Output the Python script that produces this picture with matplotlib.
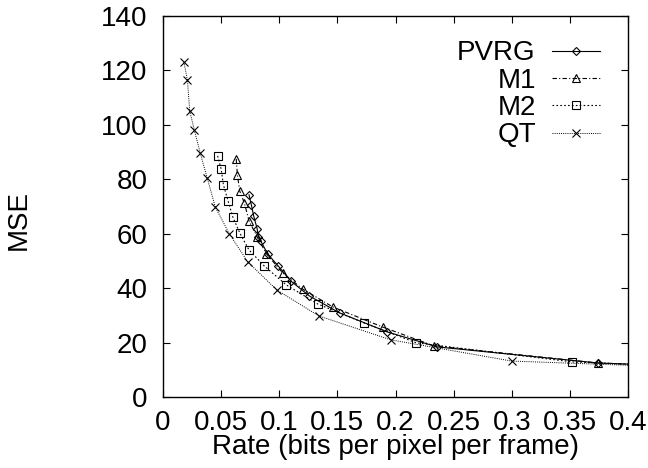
import matplotlib
matplotlib.use("Agg")
import matplotlib.pyplot as plt

plt.rcParams["font.family"] = ["Liberation Sans", "DejaVu Sans"]

# values
pvrg_x = [0.074, 0.076, 0.078, 0.081, 0.082, 0.084, 0.090, 0.099, 0.110, 0.126, 0.152, 0.193, 0.236, 0.374, 0.45]
pvrg_y = [74.3, 70.6, 66.5, 61.8, 58.8, 57.4, 52.6, 48.2, 42.6, 37.1, 30.9, 23.9, 18.4, 12.5, 11.3]

m1_x = [0.063, 0.064, 0.066, 0.070, 0.074, 0.081, 0.089, 0.103, 0.120, 0.146, 0.189, 0.233, 0.374, 0.45]
m1_y = [87.5, 81.6, 75.7, 71.3, 64.7, 58.8, 52.6, 45.6, 39.7, 33.1, 25.7, 18.8, 12.5, 11.3]

m2_x = [0.047, 0.050, 0.052, 0.056, 0.060, 0.066, 0.074, 0.087, 0.106, 0.133, 0.173, 0.218, 0.352, 0.45]
m2_y = [88.6, 83.8, 77.9, 72.0, 66.2, 60.3, 54.0, 48.2, 41.2, 34.2, 27.2, 19.9, 12.9, 11.2]

qt_x = [0.018, 0.021, 0.023, 0.027, 0.032, 0.038, 0.045, 0.057, 0.073, 0.098, 0.134, 0.196, 0.300, 0.45]
qt_y = [123.0, 116.5, 105.0, 98.0, 89.7, 80.5, 69.8, 60.0, 49.6, 39.3, 29.8, 21.0, 13.2, 10.9]

x_ticks = [0, 0.05, 0.1, 0.15, 0.2, 0.25, 0.3, 0.35, 0.4]
x_tick_labels = ["0", "0.05", "0.1", "0.15", "0.2", "0.25", "0.3", "0.35", "0.4"]
y_ticks = [0, 20, 40, 60, 80, 100, 120, 140]

fs = 20

fig = plt.figure(figsize=(6.48, 4.68), dpi=100)
ax = fig.add_axes([163 / 648, 1 - 397 / 468, 465 / 648, 381 / 468])

common = dict(color="black", lw=0.8, ms=5.2, mfc="none", mec="black", mew=0.8)
ax.plot(pvrg_x, pvrg_y, ls="-", marker="D", label="PVRG", **{**common, "ms": 4.3})
ax.plot(m1_x, m1_y, ls=(0, (4, 2, 1, 2)), marker="^", label="M1", **common)
ax.plot(m2_x, m2_y, ls=(0, (1.5, 2)), marker="s", label="M2", **common)
ax.plot(qt_x, qt_y, ls=(0, (1, 1.2)), marker="x", label="QT", **{**common, "lw": 0.7})

ax.set_xlim(0, 0.4)
ax.set_ylim(0, 140)
ax.set_xticks(x_ticks)
ax.set_xticklabels(x_tick_labels)
ax.set_yticks(y_ticks)
ax.tick_params(direction="in", length=5, width=0.8, top=True, right=True,
               labelsize=fs)
ax.tick_params(axis="x", pad=9)
ax.tick_params(axis="y", pad=11)
for s in ax.spines.values():
    s.set_linewidth(1.0)

ax.set_xlabel("Rate (bits per pixel per frame)", fontsize=fs, labelpad=-1)
ax.set_ylabel("MSE", fontsize=fs)
ax.yaxis.set_label_coords(-0.282, 0.465)

ax.legend(loc="upper right", bbox_to_anchor=(0.975, 0.98), frameon=False,
          markerfirst=False, numpoints=1, fontsize=fs, handlelength=1.7,
          handletextpad=0.6, labelspacing=0.05, borderaxespad=0.2)

fig.savefig("out.png", dpi=100)
